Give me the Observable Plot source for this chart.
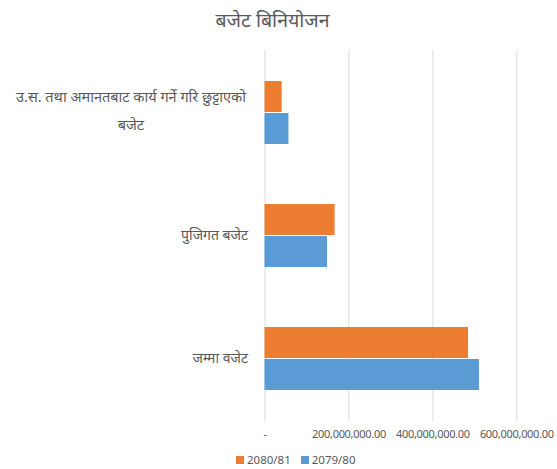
<!DOCTYPE html>
<html>
<head>
<meta charset="utf-8">
<script src="https://cdn.jsdelivr.net/npm/d3@7"></script>
<script src="https://cdn.jsdelivr.net/npm/@observablehq/plot@0.6"></script>
<style>
  html, body { margin: 0; padding: 0; background: #fff; }
  body { width: 557px; height: 469px; overflow: hidden; font-family: "Noto Sans", "Open Sans", sans-serif; color: #595959; }
  #title { height: 40px; line-height: 40px; text-align: center; font-size: 19.5px; color: #595959; padding-right: 12px; }
  #legend { position: absolute; top: 452px; left: 236px; font-size: 11.5px; display: flex; align-items: center; gap: 0; }
  .sw { display: inline-block; width: 8px; height: 8px; margin-right: 3px; }
  .item { display: flex; align-items: center; margin-right: 10px; }
  g[aria-label="x-axis tick label"] text { letter-spacing: -0.3px; }
</style>
</head>
<body>
<div id="title">बजेट बिनियोजन</div>
<div id="chart"></div>
<div id="legend"></div>
<script>
const categories = [
  "उ.स. तथा अमानतबाट कार्य गर्ने गरि छुट्टाएको\nबजेट",
  "पुजिगत बजेट",
  "जम्मा वजेट"
];
const series = ["2080/81", "2079/80"];
const colors = ["#ED7D31", "#5B9BD5"];
const values2080 = [41000000, 167000000, 485000000];
const values2079 = [57000000, 149000000, 511000000];
const xTicks = [0, 200000000, 400000000, 600000000];
const xTickLabels = ["-", "200,000,000.00", "400,000,000.00", "600,000,000.00"];

const rows2080 = categories.map((c, i) => ({category: c, value: values2080[i]}));
const rows2079 = categories.map((c, i) => ({category: c, value: values2079[i]}));

const longCat = categories[0];
const shortCats = categories.slice(1);

const chart = Plot.plot({
  width: 557,
  height: 410,
  marginTop: 10,
  marginBottom: 29,
  marginLeft: 264.5,
  marginRight: 40.7,
  style: {fontFamily: "'Noto Sans', 'Open Sans', sans-serif", color: "#595959", background: "#fff"},
  x: {domain: [0, 600000000], label: null},
  y: {domain: categories, paddingInner: 0.484, paddingOuter: 0.242, label: null},
  marks: [
    Plot.gridX(xTicks, {stroke: "#d9d9d9", strokeOpacity: 1, strokeWidth: 1}),
    Plot.barX(rows2080, {x: "value", y: "category", fill: colors[0], insetBottom: 32, insetTop: 0}),
    Plot.barX(rows2079, {x: "value", y: "category", fill: colors[1], insetTop: 32, insetBottom: 0}),
    Plot.axisX(xTicks, {tickSize: 0, tickPadding: 9, fontSize: 11, fill: "#595959", label: null,
      tickFormat: (d) => xTickLabels[xTicks.indexOf(d)]}),
    Plot.axisY(shortCats, {tickSize: 0, tickPadding: 17, fontSize: 14, fill: "#595959", textAnchor: "end", label: null}),
    Plot.axisY([longCat], {tickSize: 0, tickPadding: 134, fontSize: 14.5, fill: "#595959", textAnchor: "middle", lineHeight: 1.9, dy: -6, label: null})
  ]
});
document.getElementById("chart").appendChild(chart);

const legend = document.getElementById("legend");
series.forEach((s, i) => {
  const item = document.createElement("span");
  item.className = "item";
  item.innerHTML = `<span class="sw" style="background:${colors[i]}"></span>${s}`;
  legend.appendChild(item);
});
</script>
</body>
</html>
